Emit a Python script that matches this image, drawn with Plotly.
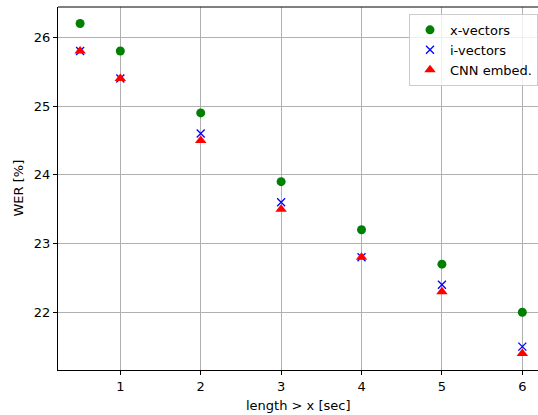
import plotly.graph_objects as go

lengths = [0.5, 1, 2, 3, 4, 5, 6]
xvectors = [26.2, 25.8, 24.9, 23.9, 23.2, 22.7, 22.0]
ivectors = [25.8, 25.4, 24.6, 23.6, 22.8, 22.4, 21.5]
cnn_embed = [25.8, 25.4, 24.5, 23.5, 22.8, 22.3, 21.4]
x_ticks = [1, 2, 3, 4, 5, 6]
y_ticks = [22, 23, 24, 25, 26]

font = "DejaVu Sans"
fs = 13
fig = go.Figure()
fig.add_trace(go.Scatter(x=lengths, y=xvectors, mode="markers", name="x-vectors",
                         marker=dict(symbol="circle", size=9, color="green")))
fig.add_trace(go.Scatter(x=lengths, y=ivectors, mode="markers", name="i-vectors",
                         marker=dict(symbol="x-thin", size=8, color="blue",
                                     line=dict(width=1.3, color="blue"))))
fig.add_trace(go.Scatter(x=lengths, y=cnn_embed, mode="markers", name="CNN embed.",
                         marker=dict(symbol="triangle-up", size=10, color="red")))

fig.update_layout(
    width=538, height=415,
    margin=dict(l=58, r=0, t=7, b=45, autoexpand=False),
    paper_bgcolor="white", plot_bgcolor="white",
    font=dict(family=font, size=fs, color="black"),
    showlegend=True,
    legend=dict(x=1.0, y=0.981, xanchor="right", yanchor="top",
                bgcolor="rgba(255,255,255,0.8)", bordercolor="#cccccc", borderwidth=1,
                font=dict(family=font, size=fs), itemsizing="trace",
                itemwidth=30),
)
fig.update_xaxes(range=[0.225, 6.195], tickvals=x_ticks, ticks="outside", ticklen=4,
                 tickcolor="black", showgrid=True, gridcolor="#b0b0b0", gridwidth=0.8,
                 showline=True, linecolor="black", linewidth=1, mirror=False,
                 zeroline=False, automargin=False)
fig.update_yaxes(range=[21.16, 26.44], tickvals=y_ticks, ticks="outside", ticklen=4,
                 tickcolor="black", showgrid=True, gridcolor="#b0b0b0", gridwidth=0.8,
                 showline=True, linecolor="black", linewidth=1, mirror=False,
                 zeroline=False, automargin=False)
fig.add_shape(type="line", xref="paper", yref="paper", x0=0, x1=1, y0=1, y1=1,
              line=dict(color="black", width=1))
fig.add_annotation(text="length > x [sec]", xref="paper", yref="paper", x=0.5, y=0,
                   yshift=-26, xanchor="center", yanchor="top", showarrow=False,
                   font=dict(family=font, size=fs))
fig.add_annotation(text="WER [%]", xref="paper", yref="paper", x=0, y=0.5,
                   xshift=-40, textangle=-90, xanchor="center", yanchor="middle",
                   showarrow=False, font=dict(family=font, size=fs))
fig.write_html("out.html", config={"displayModeBar": False},
               post_script="document.body.style.margin='0';document.body.style.overflow='hidden';")
